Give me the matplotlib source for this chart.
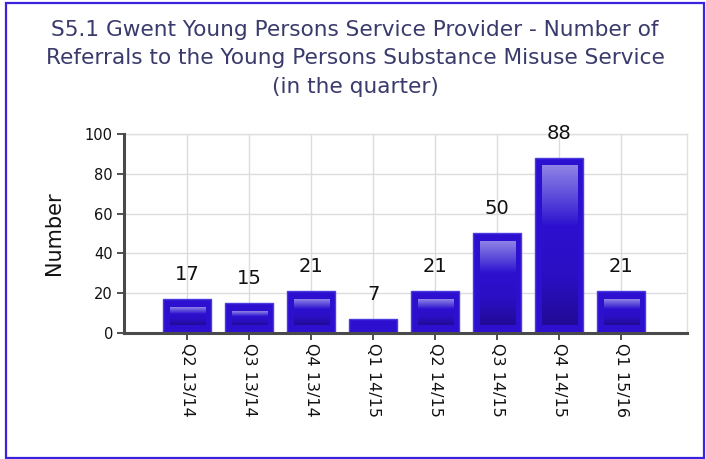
import numpy as np
import matplotlib
matplotlib.use("Agg")
import matplotlib.pyplot as plt
from matplotlib.colors import LinearSegmentedColormap
from matplotlib import patches

# Data
quarters = ["Q2 13/14", "Q3 13/14", "Q4 13/14", "Q1 14/15",
            "Q2 14/15", "Q3 14/15", "Q4 14/15", "Q1 15/16"]
referrals = [17, 15, 21, 7, 21, 50, 88, 21]
y_ticks = [0, 20, 40, 60, 80, 100]
title_lines = ["S5.1 Gwent Young Persons Service Provider - Number of",
               "Referrals to the Young Persons Substance Misuse Service",
               "(in the quarter)"]

W, H = 706, 459
fig = plt.figure(figsize=(W / 100, H / 100), dpi=100)
fig.patch.set_facecolor("white")

# Plot area in pixels: left 124, right 687, top 134, bottom 333
ax = fig.add_axes([124 / W, (H - 333) / H, (687 - 124) / W, (333 - 134) / H])

base = "#2d10cf"
edge = "#4a3ae2"
bar_w = 0.77
x = np.arange(len(quarters))

ax.bar(x, referrals, width=bar_w, color=base, edgecolor=edge, linewidth=1.0, zorder=3)

# Glossy inner gradient on each bar
grad_cmap = LinearSegmentedColormap.from_list(
    "gloss",
    [(0.0, "#210a96"), (0.3, "#2a0fc2"), (0.62, "#2d10cf"),
     (0.78, "#5644d9"), (1.0, "#8f83e6")])
grad = np.linspace(0, 1, 256).reshape(-1, 1)
px_x = 62.0          # pixels per category
px_y = 199.0 / 100   # pixels per unit value
for xi, v in zip(x, referrals):
    left = xi - bar_w / 2 + 7 / px_x
    right = xi + bar_w / 2 - 5 / px_x
    bot = 8 / px_y
    top = v - 8 / px_y
    if top - bot < 2 / px_y:
        continue
    ax.imshow(grad, cmap=grad_cmap, origin="lower", aspect="auto",
              extent=(left, right, bot, top), zorder=4, interpolation="bilinear")

# Value labels
for xi, v in zip(x, referrals):
    ax.text(xi, v + 12.5, str(v), ha="center", va="center",
            fontsize=14, color="#111111", zorder=5)

ax.set_xlim(-1.02, 8.06)
ax.set_ylim(0, 100)
ax.set_yticks(y_ticks)
ax.set_yticklabels([str(t) for t in y_ticks], fontsize=10.5, color="#111111")
ax.set_xticks(x)
ax.set_xticklabels(quarters, rotation=270, fontsize=11.5, color="#111111",
                   va="top", ha="center")

ax.grid(True, color="#dcdcdc", linewidth=1.0, zorder=0)
ax.set_axisbelow(True)

for side in ["top", "right"]:
    ax.spines[side].set_color("#e0e0e0")
    ax.spines[side].set_linewidth(1.0)
for side in ["left", "bottom"]:
    ax.spines[side].set_color("#4a4a4a")
    ax.spines[side].set_linewidth(2.2)
    ax.spines[side].set_zorder(6)
ax.tick_params(axis="both", direction="out", length=5, width=1.2, color="#333333", pad=3)
ax.tick_params(axis="x", pad=2)

ax.set_ylabel("Number", fontsize=15, color="#111111", labelpad=15)

# Title
title_y = [30, 58, 87]
for line, ty in zip(title_lines, title_y):
    fig.text(355 / W, 1 - ty / H, line, ha="center", va="center",
             fontsize=15.6, color="#3a3a6c")

# Outer frame
fig.patches.append(patches.Rectangle(
    (5.5 / W, 1.5 / H), (704 - 5.5) / W, (456 - 1.5) / H,
    transform=fig.transFigure, fill=False, edgecolor="#3a22e0", linewidth=1.6))

fig.savefig("out.png", dpi=100, facecolor="white")
